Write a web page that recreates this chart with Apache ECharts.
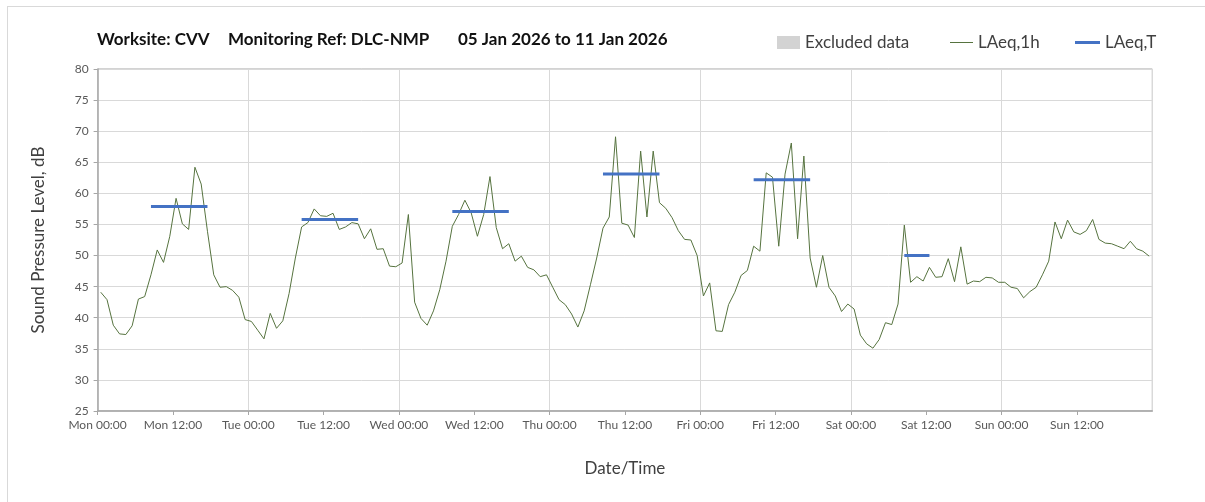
<!DOCTYPE html>
<html>
<head>
<meta charset="utf-8">
<script src="https://cdn.jsdelivr.net/npm/echarts@6/dist/echarts.min.js"></script>
<style>
html,body{margin:0;padding:0;background:#fff;overflow:hidden;}
#frame{position:absolute;left:7px;top:6px;width:1400px;height:700px;border:1px solid #d9d9d9;box-sizing:border-box;}
#chart{position:absolute;left:0;top:0;width:1205px;height:502px;}
</style>
</head>
<body>
<div id="frame"></div>
<div id="chart"></div>
<script>
// Day names used for the tick labels
const dayNames = ['Mon', 'Tue', 'Wed', 'Thu', 'Fri', 'Sat', 'Sun'];
const tickTimes = ['00:00', '12:00'];

// Hourly LAeq,1h values (dB), Mon 00:00 .. Sun 23:00, one per hour
const laeq1hMon = [44.1, 42.9, 38.8, 37.4, 37.3, 38.7, 43.0, 43.4, 46.9, 50.9, 48.9, 53.1, 59.2, 55.1, 54.2, 64.2, 61.5, 53.9, 46.9, 44.9, 45.0, 44.4, 43.3, 39.7];
const laeq1hTue = [39.4, 38.0, 36.6, 40.7, 38.3, 39.5, 43.9, 49.6, 54.6, 55.3, 57.5, 56.4, 56.3, 56.8, 54.2, 54.6, 55.3, 55.1, 52.7, 54.3, 51.0, 51.1, 48.3, 48.2];
const laeq1hWed = [48.8, 56.6, 42.5, 39.9, 38.8, 41.1, 44.5, 49.1, 54.7, 56.6, 58.9, 56.9, 53.1, 56.6, 62.7, 54.5, 51.1, 51.9, 49.1, 49.9, 48.1, 47.7, 46.6, 46.9];
const laeq1hThu = [44.9, 42.9, 42.1, 40.6, 38.5, 41.1, 45.3, 49.6, 54.4, 56.2, 69.1, 55.2, 54.9, 52.9, 66.8, 56.2, 66.8, 58.5, 57.6, 56.1, 54.0, 52.6, 52.5, 50.0];
const laeq1hFri = [43.5, 45.6, 37.9, 37.8, 42.1, 44.1, 46.8, 47.6, 51.5, 50.7, 63.3, 62.6, 51.5, 63.1, 68.1, 52.7, 66.0, 49.6, 44.9, 50.0, 44.9, 43.5, 41.0, 42.2];
const laeq1hSat = [41.4, 37.2, 35.8, 35.1, 36.5, 39.2, 38.9, 42.2, 54.9, 45.7, 46.6, 45.9, 48.1, 46.5, 46.6, 49.5, 45.8, 51.4, 45.4, 45.9, 45.8, 46.5, 46.4, 45.7];
const laeq1hSun = [45.7, 44.9, 44.7, 43.2, 44.2, 44.9, 46.9, 49.1, 55.4, 52.7, 55.7, 53.8, 53.4, 54.0, 55.8, 52.6, 52.0, 51.9, 51.5, 51.1, 52.3, 51.1, 50.7, 49.9];

// LAeq,T period results: day index, first hour, last hour, level (dB)
const periodDay   = [0, 1, 2, 3, 4, 5];
const periodFirst = [8, 8, 8, 8, 8, 8];
const periodLast  = [17, 17, 17, 17, 17, 12];
const periodLevel = [57.9, 55.8, 57.1, 63.1, 62.2, 50.0];

const allHours = [].concat(laeq1hMon, laeq1hTue, laeq1hWed, laeq1hThu, laeq1hFri, laeq1hSat, laeq1hSun);
const lineData = allHours.map((v, i) => [i + 0.5, v]);

const font = 'Lato, "Open Sans", sans-serif';
const txt = '#404040';
const green = '#56733f';
const blue = '#4472C4';

const periodSeries = periodDay.map((d, k) => ({
  name: 'LAeq,T',
  type: 'line',
  symbol: 'none',
  z: 3,
  lineStyle: { color: blue, width: 3 },
  itemStyle: { color: blue },
  data: [[d * 24 + periodFirst[k] + 0.5, periodLevel[k]], [d * 24 + periodLast[k] + 0.5, periodLevel[k]]]
}));

const titleStyle = { fontSize: 17, fontWeight: 'bold', color: '#111', fontFamily: font };
const legendText = { fontSize: 17, color: txt, fontFamily: font };

const chart = echarts.init(document.getElementById('chart'));
chart.setOption({
  animation: false,
  backgroundColor: 'transparent',
  textStyle: { fontFamily: font },
  title: [
    { text: 'Worksite: CVV', left: 97, top: 31, padding: 0, textStyle: titleStyle },
    { text: 'Monitoring Ref: DLC-NMP', left: 228, top: 31, padding: 0, textStyle: titleStyle },
    { text: '05 Jan 2026 to 11 Jan 2026', left: 458, top: 31, padding: 0, textStyle: titleStyle }
  ],
  legend: [
    { data: [{ name: 'Excluded data', icon: 'rect', itemStyle: { color: '#d3d3d3' } }], left: 777, top: 34, padding: 0,
      itemWidth: 23, itemHeight: 13, textStyle: legendText },
    { data: [{ name: 'LAeq,1h', icon: 'rect', itemStyle: { color: green } }], left: 950, top: 34, padding: 0,
      itemWidth: 23, itemHeight: 1, textStyle: legendText },
    { data: [{ name: 'LAeq,T', icon: 'rect', itemStyle: { color: blue } }], left: 1075, top: 34, padding: 0,
      itemWidth: 25, itemHeight: 3, textStyle: legendText }
  ],
  grid: { left: 97.6, right: 52.7, top: 69, bottom: 91, containLabel: false, outerBoundsMode: 'none',
          show: true, borderColor: '#a6a6a6', borderWidth: 1 },
  xAxis: [
    {
      type: 'value', min: 0, max: 168, interval: 12,
      name: 'Date/Time', nameLocation: 'middle', nameGap: 49,
      nameTextStyle: { fontSize: 17, color: txt, fontFamily: font },
      axisLine: { show: true, lineStyle: { color: '#a6a6a6', width: 1.5 } },
      axisTick: { show: true, length: 4, lineStyle: { color: '#a6a6a6' } },
      axisLabel: {
        fontSize: 12, color: '#595959', margin: 8, showMaxLabel: false, fontFamily: font,
        formatter: v => dayNames[Math.floor(v / 24)] + ' ' + tickTimes[(v % 24) / 12]
      },
      splitLine: { show: false }
    },
    {
      type: 'value', min: 0, max: 168, interval: 24, position: 'bottom',
      axisLine: { show: false }, axisTick: { show: false }, axisLabel: { show: false },
      splitLine: { show: true, lineStyle: { color: '#d9d9d9', width: 1 } }
    }
  ],
  yAxis: {
    type: 'value', min: 25, max: 80, interval: 5,
    name: 'Sound Pressure Level, dB', nameLocation: 'middle', nameGap: 51,
    nameTextStyle: { fontSize: 17, color: txt, fontFamily: font },
    axisLine: { show: true, lineStyle: { color: '#a6a6a6', width: 1.5 } },
    axisTick: { show: true, length: 4, lineStyle: { color: '#a6a6a6' } },
    axisLabel: { fontSize: 12, color: '#595959', margin: 9, fontFamily: font },
    splitLine: { show: true, lineStyle: { color: '#d9d9d9', width: 1 } }
  },
  series: [
    { name: 'Excluded data', type: 'bar', data: [], itemStyle: { color: '#d3d3d3' } },
    {
      name: 'LAeq,1h', type: 'line', symbol: 'none', z: 2,
      lineStyle: { color: green, width: 1 },
      itemStyle: { color: green },
      data: lineData
    }
  ].concat(periodSeries)
});
</script>
</body>
</html>
